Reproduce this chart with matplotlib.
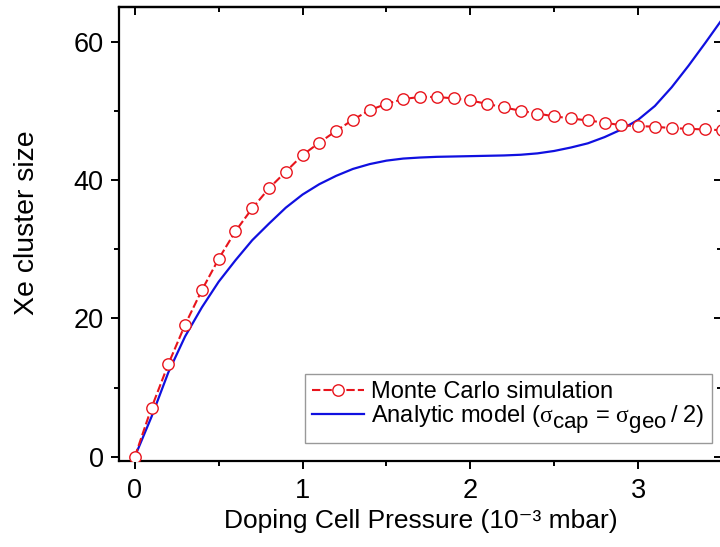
import numpy as np
import matplotlib
matplotlib.use("Agg")
import matplotlib.pyplot as plt
import matplotlib._mathtext as mathtext_internals

# subscripts in the legend label are drawn nearly full size in the original
mathtext_internals.SHRINK_FACTOR = 0.97

plt.rcParams['font.family'] = ['Liberation Sans', 'DejaVu Sans']
plt.rcParams['mathtext.fontset'] = 'custom'
plt.rcParams['mathtext.rm'] = 'Liberation Sans'
plt.rcParams['mathtext.it'] = 'Liberation Serif'
plt.rcParams['mathtext.bf'] = 'Liberation Sans:bold'

# Monte Carlo simulation points
mc_x = [0.0, 0.1, 0.2, 0.3, 0.4, 0.5, 0.6, 0.7, 0.8, 0.9, 1.0, 1.1, 1.2, 1.3,
        1.4, 1.5, 1.6, 1.7, 1.8, 1.9, 2.0, 2.1, 2.2, 2.3, 2.4, 2.5, 2.6, 2.7,
        2.8, 2.9, 3.0, 3.1, 3.2, 3.3, 3.4, 3.5]
mc_y = [0.0, 7.1, 13.4, 19.1, 24.1, 28.6, 32.6, 35.9, 38.8, 41.2, 43.6, 45.4,
        47.1, 48.7, 50.1, 51.0, 51.7, 52.0, 52.0, 51.8, 51.5, 51.0, 50.5, 50.0,
        49.6, 49.2, 48.9, 48.6, 48.3, 47.9, 47.8, 47.7, 47.5, 47.4, 47.3, 47.2]

# Analytic model curve
model_x = [0.0, 0.1, 0.2, 0.3, 0.4, 0.5, 0.6, 0.7, 0.8, 0.9, 1.0, 1.1, 1.2,
           1.3, 1.4, 1.5, 1.6, 1.7, 1.8, 1.9, 2.0, 2.1, 2.2, 2.3, 2.4, 2.5,
           2.6, 2.7, 2.8, 2.9, 3.0, 3.1, 3.2, 3.3, 3.4, 3.5]
model_y = [0.0, 5.8, 12.2, 17.4, 21.6, 25.3, 28.4, 31.3, 33.7, 36.0, 37.9,
           39.4, 40.6, 41.6, 42.3, 42.8, 43.1, 43.25, 43.35, 43.4, 43.45, 43.5,
           43.55, 43.65, 43.85, 44.2, 44.7, 45.3, 46.2, 47.3, 48.7, 50.7, 53.4,
           56.5, 59.8, 63.2]

fig = plt.figure(figsize=(7.2, 5.47), dpi=100)
ax = fig.add_axes([119 / 720, 86 / 547, 603 / 720, 454 / 547])

ax.plot(mc_x, mc_y, color='#e8141c', lw=1.5, linestyle=(0, (4, 1.5)),
        marker='o', markersize=8.2, markerfacecolor='white',
        markeredgecolor='#e8141c', markeredgewidth=1.0,
        label='Monte Carlo simulation', zorder=3)
ax.plot(model_x, model_y, color='#1010e0', lw=1.6,
        label=r'Analytic model ($\sigma_{{}_{\mathrm{cap}}}$ = $\sigma_{{}_{\mathrm{geo}}}\,\mathit{/\ 2}$)',
        zorder=2)

ax.set_xlim(-0.094, 3.463)
ax.set_ylim(-0.6, 65)
ax.set_xticks([0, 1, 2, 3])
ax.set_xticks([0.5, 1.5, 2.5, 3.5], minor=True)
ax.set_yticks([0, 20, 40, 60])
ax.set_yticks([10, 30, 50], minor=True)

for s in ax.spines.values():
    s.set_linewidth(1.6)

ax.tick_params(which='major', direction='out', length=6, width=1.4,
               labelsize=19.5, pad=5)
ax.tick_params(which='minor', direction='out', length=3.5, width=1.4)
ax.tick_params(axis='x', which='major', pad=6)

# mirrored ticks on top and right pointing inward
top = ax.secondary_xaxis('top')
top.set_xticks([0, 1, 2, 3])
top.set_xticks([0.5, 1.5, 2.5, 3.5], minor=True)
top.tick_params(which='major', direction='in', length=6, width=1.4, labeltop=False)
top.tick_params(which='minor', direction='in', length=3.5, width=1.4)
top.spines['top'].set_linewidth(1.6)
right = ax.secondary_yaxis('right')
right.set_yticks([0, 20, 40, 60])
right.set_yticks([10, 30, 50], minor=True)
right.tick_params(which='major', direction='in', length=6, width=1.4, labelright=False)
right.tick_params(which='minor', direction='in', length=3.5, width=1.4)

ax.set_xlabel('Doping Cell Pressure (10\u207b\u00b3 mbar)', fontsize=19, labelpad=4)
ax.set_ylabel('Xe cluster size', fontsize=20.5, labelpad=24)
ax.yaxis.label.set_y(0.526)

leg = ax.legend(loc='lower right', bbox_to_anchor=(0.983, 0.04), fontsize=17,
                frameon=True, fancybox=False, edgecolor='#808080',
                handlelength=2.2, handletextpad=0.3, borderpad=0.3,
                labelspacing=0.0, borderaxespad=0)
leg.get_frame().set_linewidth(1.0)

fig.savefig('out.png', dpi=100)
